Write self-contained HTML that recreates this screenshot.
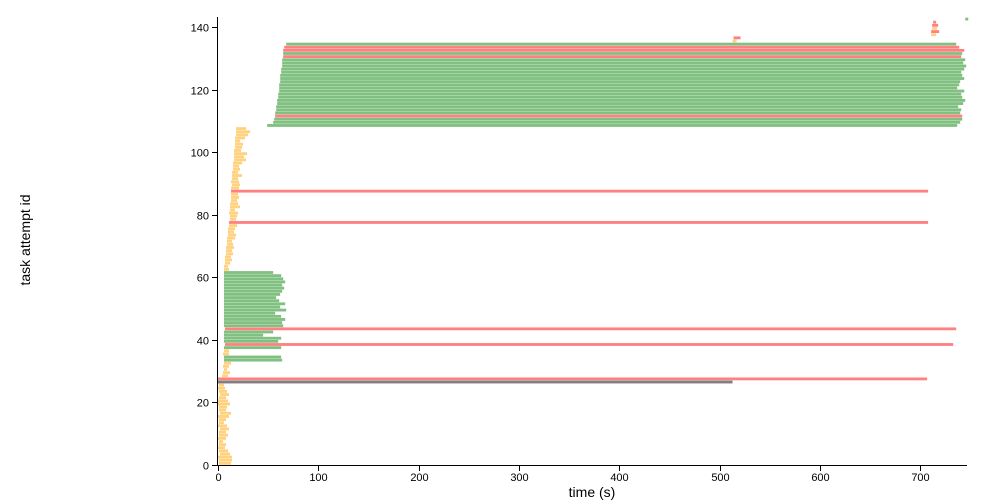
<!DOCTYPE html>
<html><head><meta charset="utf-8"><style>
body{margin:0;background:#fff;}
svg{display:block;font-family:"Liberation Sans",sans-serif;}
</style></head><body>
<svg id="chart" width="990" height="502">
<g id="bars"></g>
<g id="axes"></g>
<text x="30" y="240" transform="rotate(-90 30 240)" text-anchor="middle" font-size="14">task attempt id</text>
<text x="592" y="497" text-anchor="middle" font-size="14">time (s)</text>
</svg>
<script>
const starts = [1,1,0,2,1,0,1,1,0,1,1,2,0,1,1,0,2,1,1,0,0,1,2,1,0,1,
0,0,4,5,6,5,6,6,6,5,6,6,7,6,6,6,6,7,
6,6,6,6,6,6,6,6,6,6,6,6,6,6,6,6,6,6,
6,6,7,7,7,8,8,8,9,9,9,10,10,10,11,11,12,12,11,12,12,12,13,13,13,13,13,14,13,14,14,14,15,15,15,16,16,16,16,17,17,17,17,18,18,18,
49,55,56,57,57,58,58,59,59,60,60,61,61,61,62,62,62,63,63,64,64,64,65,65,65,66,68,
513,514,711,711,712,712,713,745];
const ends = [13,14,14,12,10,7,8,5,8,10,8,11,9,6,8,11,13,8,9,12,10,8,11,9,7,6,
513,707,10,12,9,11,13,64,63,11,11,63,733,60,63,45,55,736,
65,64,67,63,57,68,62,67,61,58,62,64,66,64,67,65,63,55,
11,10,12,14,13,15,14,16,15,14,17,18,16,17,19,708,18,19,20,17,22,20,19,21,20,708,21,22,21,20,24,20,22,21,24,28,26,29,23,24,25,22,27,30,32,28,
737,740,742,742,740,741,738,743,745,742,741,744,737,739,740,744,742,741,744,746,743,745,741,742,744,739,736,
517,521,716,719,717,718,716,748];
const statuses = ["Y","Y","Y","Y","Y","Y","Y","Y","Y","Y","Y","Y","Y","Y","Y","Y","Y","Y","Y","Y","Y","Y","Y","Y","Y","Y",
"K","R","Y","Y","Y","Y","Y","G","G","Y","Y","G","R","G","G","G","G","R",
"G","G","G","G","G","G","G","G","G","G","G","G","G","G","G","G","G","G",
"Y","Y","Y","Y","Y","Y","Y","Y","Y","Y","Y","Y","Y","Y","Y","R","Y","Y","Y","Y","Y","Y","Y","Y","Y","R","Y","Y","Y","Y","Y","Y","Y","Y","Y","Y","Y","Y","Y","Y","Y","Y","Y","Y","Y","Y",
"G","G","G","R","G","G","G","G","G","G","G","G","G","G","G","G","G","G","G","G","G","G","R","G","R","R","G",
"Y","R","Y","R","Y","R","R","G"];
const xTicks = [0,100,200,300,400,500,600,700];
const yTicks = [0,20,40,60,80,100,120,140];

const X0=218, XS=1.003, Y0=465, YS=3.129;
const xScale = v => X0 + v*XS;
const yScale = v => Y0 - v*YS;
const colors = {Y:"#ffd27f",G:"#80c080",R:"#ff8080",K:"#808080"};
const NS="http://www.w3.org/2000/svg";
const bars=document.getElementById('bars');
for(let i=0;i<starts.length;i++){
  const r=document.createElementNS(NS,'rect');
  r.setAttribute('x',xScale(starts[i]));
  r.setAttribute('y',yScale(i+1)+0.1);
  r.setAttribute('width',Math.max(1,xScale(ends[i])-xScale(starts[i])));
  r.setAttribute('height',YS-0.3);
  r.setAttribute('fill',colors[statuses[i]]);
  
  
  bars.appendChild(r);
}
const axes=document.getElementById('axes');
function line(x1,y1,x2,y2,name){
  const l=document.createElementNS(NS,'line');
  l.setAttribute('x1',x1);l.setAttribute('y1',y1);l.setAttribute('x2',x2);l.setAttribute('y2',y2);
  l.setAttribute('stroke','#000');l.setAttribute('stroke-width','1');
  
  
  axes.appendChild(l);
}
function text(x,y,s,anchor,name){
  const t=document.createElementNS(NS,'text');
  t.setAttribute('x',x);t.setAttribute('y',y);t.setAttribute('font-size','11');t.setAttribute('text-anchor',anchor);
  t.textContent=s;
  
  
  axes.appendChild(t);
}
line(217.5,17,217.5,465.5,'y-axis-line');
line(217.5,465.5,967,465.5,'x-axis-line');
xTicks.forEach(v=>{const x=Math.round(xScale(v))+0.5;line(x,465.5,x,471,'x-tick');text(x,481,String(v),'middle','x-tick-label');});
yTicks.forEach(v=>{const y=Math.round(yScale(v))+0.5;line(212,y,217.5,y,'y-tick');text(209,y+4,String(v),'end','y-tick-label');});
</script>
</body></html>
